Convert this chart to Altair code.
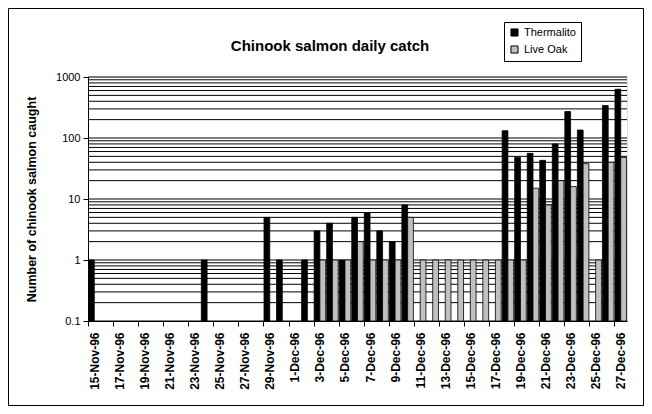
import altair as alt
import pandas as pd

dates = [
    "15-Nov-96", "16-Nov-96", "17-Nov-96", "18-Nov-96", "19-Nov-96", "20-Nov-96",
    "21-Nov-96", "22-Nov-96", "23-Nov-96", "24-Nov-96", "25-Nov-96", "26-Nov-96",
    "27-Nov-96", "28-Nov-96", "29-Nov-96", "30-Nov-96", "1-Dec-96", "2-Dec-96",
    "3-Dec-96", "4-Dec-96", "5-Dec-96", "6-Dec-96", "7-Dec-96", "8-Dec-96",
    "9-Dec-96", "10-Dec-96", "11-Dec-96", "12-Dec-96", "13-Dec-96", "14-Dec-96",
    "15-Dec-96", "16-Dec-96", "17-Dec-96", "18-Dec-96", "19-Dec-96", "20-Dec-96",
    "21-Dec-96", "22-Dec-96", "23-Dec-96", "24-Dec-96", "25-Dec-96", "26-Dec-96",
    "27-Dec-96",
]
thermalito = [1, 0, 0, 0, 0, 0, 0, 0, 0, 1, 0, 0, 0, 0, 5, 1, 0, 1, 3, 4, 1, 5,
              6, 3, 2, 8, 0, 0, 0, 0, 0, 0, 0, 132, 48, 56, 43, 80, 272, 135, 0,
              340, 630]
live_oak = [0, 0, 0, 0, 0, 0, 0, 0, 0, 0, 0, 0, 0, 0, 0, 0, 0, 0, 1, 1, 1, 2,
            1, 1, 1, 5, 1, 1, 1, 1, 1, 1, 1, 1, 1, 15, 8, 20, 16, 38, 1, 40, 48]
series_names = ["Thermalito", "Live Oak"]
series_colors = ["#000000", "#C0C0C0"]
y_ticks = [0.1, 1, 10, 100, 1000]
label_dates = dates[::2]
grid_values = [m * d for d in [0.1, 1, 10, 100] for m in range(1, 10)] + [1000]
chart_title = "Chinook salmon daily catch"

rows = []
for d, t, l in zip(dates, thermalito, live_oak):
    if t > 0:
        rows.append({"date": d, "series": "Thermalito", "value": t})
    if l > 0:
        rows.append({"date": d, "series": "Live Oak", "value": l})
df = pd.DataFrame(rows)
grid_df = pd.DataFrame({"g": grid_values})

FONT = "Liberation Sans"
W, H = 539, 244
step = W / 43.0

yscale = alt.Scale(type="log", domain=[0.1, 1000], nice=False)
yaxis = alt.Axis(
    title="Number of chinook salmon caught",
    titleFont=FONT,
    titleFontSize=12.5,
    titleFontWeight="bold",
    titleColor="#000000",
    titlePadding=17,
    values=y_ticks,
    format="~g",
    labelFont=FONT,
    labelFontSize=11,
    labelColor="#000000",
    labelPadding=3,
    tickSize=5,
    tickColor="#000000",
    domainColor="#000000",
    grid=False,
)

grid = alt.Chart(grid_df).mark_rule(color="#000000", strokeWidth=1).encode(
    y=alt.Y("g:Q", scale=yscale, axis=yaxis)
)

bars = alt.Chart(df).mark_bar(stroke="#000000", strokeWidth=0.8).encode(
    x=alt.X(
        "date:N",
        sort=dates,
        scale=alt.Scale(domain=dates, paddingInner=0.08, paddingOuter=0.04),
        axis=alt.Axis(
            title=None,
            values=label_dates,
            labelAngle=270,
            labelAlign="right",
            labelBaseline="middle",
            labelFont=FONT,
            labelFontSize=12,
            labelFontWeight="bold",
            labelColor="#000000",
            labelPadding=6,
            tickOffset=-step / 2,
            labelOffset=step / 2,
            tickSize=5,
            tickColor="#000000",
            domainColor="#000000",
            grid=False,
        ),
    ),
    xOffset=alt.XOffset("series:N", sort=series_names,
                        scale=alt.Scale(domain=series_names, paddingInner=0, paddingOuter=0)),
    y=alt.Y("value:Q", scale=yscale, axis=yaxis),
    y2=alt.Y2(datum=0.1),
    color=alt.Color(
        "series:N",
        sort=series_names,
        scale=alt.Scale(domain=series_names, range=series_colors),
        legend=alt.Legend(
            title=None,
            orient="none",
            legendX=416,
            legendY=-55,
            symbolType="square",
            symbolSize=50,
            symbolStrokeColor="#000000",
            symbolStrokeWidth=1,
            labelFont=FONT,
            labelFontSize=11,
            labelColor="#000000",
            strokeColor="#000000",
            fillColor="#FFFFFF",
            padding=5,
            rowPadding=4,
        ),
    ),
)

one_row = alt.Data(values=[{"a": 1}])

border = alt.Chart(one_row).mark_rect(
    fillOpacity=0, stroke="#000000", strokeWidth=1
).encode(
    x=alt.value(-79.5), x2=alt.value(555.5), y=alt.value(-68.5), y2=alt.value(328.5)
)

title = alt.Chart(one_row).mark_text(
    font=FONT, fontSize=15, fontWeight="bold", color="#000000",
    align="center", baseline="middle"
).encode(
    x=alt.value(242), y=alt.value(-31), text=alt.value(chart_title)
)

chart = alt.layer(grid, bars, border, title).properties(
    width=W,
    height=H,
    padding={"left": 80, "top": 69, "right": 17, "bottom": 85},
    autosize=alt.AutoSizeParams(type="none"),
).configure_view(stroke="#808080", strokeWidth=1).configure(background="#FFFFFF")

chart.save("out.html", embed_options={"renderer": "svg", "actions": False})
